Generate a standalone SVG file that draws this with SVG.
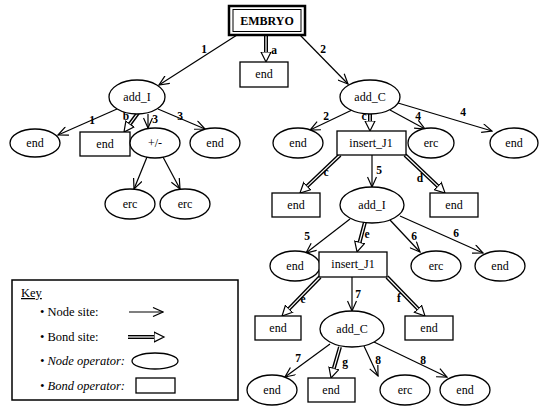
<svg xmlns="http://www.w3.org/2000/svg" width="542" height="407" viewBox="0 0 542 407" font-family="Liberation Serif, DejaVu Serif, serif">
<style>
text{font-family:"Liberation Serif","DejaVu Serif",serif;fill:#000}
.t{font-size:12px;text-anchor:middle}
.l{font-size:11.5px;text-anchor:middle;font-weight:bold}
.k{font-size:12.5px}
.ki{font-size:12.5px;font-style:italic}
.sh{fill:#fff;stroke:#000;stroke-width:1.3}
.n{fill:none;stroke:#000;stroke-width:1.2;marker-end:url(#v)}
.bo{fill:none;stroke:#000;stroke-width:4;marker-end:url(#tri)}
.bi{fill:none;stroke:#fff;stroke-width:1.2}
</style>
<defs>
<marker id="v" markerUnits="userSpaceOnUse" markerWidth="12" markerHeight="10" viewBox="0 0 12 10" refX="11" refY="5" orient="auto">
<path d="M1,0.5 L11,5 L1,9.5" fill="none" stroke="#000" stroke-width="1.2"/>
</marker>
<marker id="tri" markerUnits="userSpaceOnUse" markerWidth="12" markerHeight="12" viewBox="0 0 12 12" refX="0.5" refY="6" orient="auto">
<path d="M0.5,1 L10.5,6 L0.5,11 Z" fill="#fff" stroke="#000" stroke-width="1.2"/>
</marker>
</defs>
<rect width="542" height="407" fill="#fff"/>

<g id="connectors">
<path class="n" d="M237,35 L159,85"/>
<path class="n" d="M300,35 L348,84"/>
<path class="n" d="M117,109 L58,135"/>
<path class="n" d="M148,114 L148,128"/>
<path class="n" d="M158,109 L205,129"/>
<path class="n" d="M147,157 L134,189"/>
<path class="n" d="M163,157 L180,189"/>
<path class="n" d="M352,110 L310,130"/>
<path class="n" d="M390,110 L425,129"/>
<path class="n" d="M398,103 L492,131"/>
<path class="n" d="M372,155 L372,187"/>
<path class="n" d="M350,219 L306,253"/>
<path class="n" d="M390,220 L420,252"/>
<path class="n" d="M400,216 L483,253"/>
<path class="n" d="M352,277 L352,311"/>
<path class="n" d="M330,344 L285,377"/>
<path class="n" d="M364,346 L378,376"/>
<path class="n" d="M374,342 L447,377"/>

<path class="bo" d="M266,36 L266,52"/><path class="bi" d="M266,36 L266,52"/>
<path class="bo" d="M138,113 L129.9,124"/><path class="bi" d="M138,113 L129.9,124"/>
<path class="bo" d="M370,114 L370,121"/><path class="bi" d="M370,114 L370,121"/>
<path class="bo" d="M340,155 L307.2,186.1"/><path class="bi" d="M340,155 L307.2,186.1"/>
<path class="bo" d="M405,155 L437.8,186.1"/><path class="bi" d="M405,155 L437.8,186.1"/>
<path class="bo" d="M365,222 L359.6,242.3"/><path class="bi" d="M365,222 L359.6,242.3"/>
<path class="bo" d="M320,277 L289,308.8"/><path class="bi" d="M320,277 L289,308.8"/>
<path class="bo" d="M387,277 L418,308.8"/><path class="bi" d="M387,277 L418,308.8"/>
<path class="bo" d="M340,347 L333.8,368.4"/><path class="bi" d="M340,347 L333.8,368.4"/>

<text class="l" x="204" y="53">1</text>
<text class="l" x="274" y="54">a</text>
<text class="l" x="323" y="53">2</text>
<text class="l" x="92" y="124">1</text>
<text class="l" x="126" y="120">b</text>
<text class="l" x="155" y="123">3</text>
<text class="l" x="180" y="120">3</text>
<text class="l" x="326" y="120">2</text>
<text class="l" x="364" y="120">c</text>
<text class="l" x="418" y="120">4</text>
<text class="l" x="463" y="116">4</text>
<text class="l" x="326" y="176">c</text>
<text class="l" x="379" y="174">5</text>
<text class="l" x="420" y="182">d</text>
<text class="l" x="307" y="240">5</text>
<text class="l" x="367" y="238">e</text>
<text class="l" x="414" y="240">6</text>
<text class="l" x="456" y="237">6</text>
<text class="l" x="303" y="303">e</text>
<text class="l" x="358" y="298">7</text>
<text class="l" x="399" y="302">f</text>
<text class="l" x="298" y="362">7</text>
<text class="l" x="345" y="366">g</text>
<text class="l" x="378" y="364">8</text>
<text class="l" x="423" y="364">8</text>
</g>

<g id="embryo">
<rect x="229" y="6" width="76" height="29" fill="#fff" stroke="#000" stroke-width="2.5"/>
<rect x="233" y="9.5" width="68" height="22" fill="none" stroke="#000" stroke-width="1"/>
<text class="t" x="267" y="25" style="font-size:12px;font-weight:bold">EMBRYO</text>
</g>
<g id="end_a"><rect class="sh" x="240" y="62" width="48" height="25"/><text class="t" x="264" y="78">end</text></g>
<g id="add_I_1"><ellipse class="sh" cx="137" cy="97" rx="28" ry="17"/><text class="t" x="137" y="101">add_I</text></g>
<g id="add_C_1"><ellipse class="sh" cx="370" cy="97" rx="30" ry="17"/><text class="t" x="370" y="101">add_C</text></g>

<g id="end_1"><ellipse class="sh" cx="35" cy="143" rx="25" ry="14"/><text class="t" x="35" y="147">end</text></g>
<g id="end_b"><rect class="sh" x="80" y="132" width="50" height="24"/><text class="t" x="105" y="148">end</text></g>
<g id="plusminus"><ellipse class="sh" cx="155" cy="143" rx="25" ry="15"/><text class="t" x="155" y="147">+/-</text></g>
<g id="end_3"><ellipse class="sh" cx="215" cy="143" rx="25" ry="15"/><text class="t" x="215" y="147">end</text></g>
<g id="erc_a"><ellipse class="sh" cx="130" cy="204" rx="25" ry="15"/><text class="t" x="130" y="208">erc</text></g>
<g id="erc_b"><ellipse class="sh" cx="185" cy="204" rx="25" ry="15"/><text class="t" x="185" y="208">erc</text></g>

<g id="end_2"><ellipse class="sh" cx="298" cy="143" rx="25" ry="15"/><text class="t" x="298" y="147">end</text></g>
<g id="insert_J1_1"><rect class="sh" x="337" y="131" width="69" height="24"/><text class="t" x="371" y="147">insert_J1</text></g>
<g id="erc_4"><ellipse class="sh" cx="431" cy="143" rx="23" ry="15"/><text class="t" x="431" y="147">erc</text></g>
<g id="end_4"><ellipse class="sh" cx="514" cy="143" rx="24" ry="15"/><text class="t" x="514" y="147">end</text></g>

<g id="end_c"><rect class="sh" x="272" y="193" width="48" height="24"/><text class="t" x="296" y="209">end</text></g>
<g id="add_I_2"><ellipse class="sh" cx="372" cy="205" rx="32" ry="18"/><text class="t" x="372" y="209">add_I</text></g>
<g id="end_d"><rect class="sh" x="430" y="193" width="48" height="24"/><text class="t" x="454" y="209">end</text></g>

<g id="end_5"><ellipse class="sh" cx="295" cy="266" rx="25" ry="15"/><text class="t" x="295" y="270">end</text></g>
<g id="insert_J1_2"><rect class="sh" x="319" y="252" width="68" height="25"/><text class="t" x="353" y="268">insert_J1</text></g>
<g id="erc_6"><ellipse class="sh" cx="436" cy="266" rx="25" ry="15"/><text class="t" x="436" y="270">erc</text></g>
<g id="end_6"><ellipse class="sh" cx="500" cy="266" rx="25" ry="15"/><text class="t" x="500" y="270">end</text></g>

<g id="end_e"><rect class="sh" x="255" y="316" width="46" height="24"/><text class="t" x="278" y="332">end</text></g>
<g id="add_C_2"><ellipse class="sh" cx="352" cy="329" rx="32" ry="18"/><text class="t" x="352" y="333">add_C</text></g>
<g id="end_f"><rect class="sh" x="405" y="316" width="48" height="24"/><text class="t" x="429" y="332">end</text></g>

<g id="end_7"><ellipse class="sh" cx="272" cy="390" rx="25" ry="15"/><text class="t" x="272" y="394">end</text></g>
<g id="end_g"><rect class="sh" x="308" y="378" width="47" height="24"/><text class="t" x="331" y="394">end</text></g>
<g id="erc_8"><ellipse class="sh" cx="405" cy="390" rx="25" ry="15"/><text class="t" x="405" y="394">erc</text></g>
<g id="end_8"><ellipse class="sh" cx="465" cy="390" rx="25" ry="15"/><text class="t" x="465" y="394">end</text></g>

<g id="key">
<rect x="12" y="280" width="226" height="120" fill="#fff" stroke="#000" stroke-width="1.5"/>
<text class="k" x="21" y="297" text-decoration="underline">Key</text>
<text class="k" x="40" y="316">• Node site:</text>
<path class="n" d="M129,312 L163,312"/>
<text class="k" x="40" y="341">• Bond site:</text>
<path class="bo" d="M128,337 L154,337"/><path class="bi" d="M128,337 L154,337"/>
<text class="ki" x="40" y="365">• Node operator:</text>
<ellipse class="sh" cx="155" cy="361" rx="23" ry="8"/>
<text class="ki" x="40" y="390">• Bond operator:</text>
<rect class="sh" x="136" y="378" width="39" height="15"/>
</g>
</svg>
